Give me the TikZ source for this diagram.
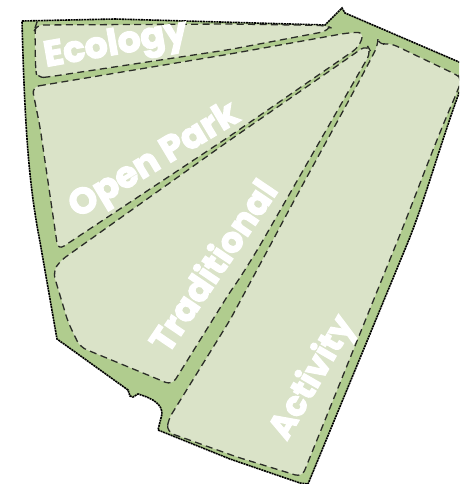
\documentclass[tikz,border=0pt]{standalone}
\usepackage{fontspec}
\newfontfamily\lblfont[BoldFeatures={FakeBold=3.5}]{Poppins}
\definecolor{pathgreen}{HTML}{B0CC8E}
\definecolor{zonegreen}{HTML}{DAE3C8}
\definecolor{dashgrey}{HTML}{2B2D28}
\tikzset{
  site/.style={fill=pathgreen,draw=black,line width=1.6pt,dash pattern=on 2pt off 0.7pt},
  zone/.style={fill=zonegreen,draw=dashgrey,line width=1.3pt,dash pattern=on 7pt off 4.4pt,rounded corners=7pt},
  zonelabel/.style={text=white,inner sep=0pt,font=\lblfont\bfseries\fontsize{36}{36}\selectfont},
}
\begin{document}
\begin{tikzpicture}[x=1pt,y=-1pt]
\useasboundingbox (0,0) rectangle (459,484);
\clip (0,0) rectangle (459,484);
% site outline
\path[site] (22,21) -- (115,19) -- (325,25) -- (342,8) -- (345,13) -- (459,62) -- (470,67) -- (470,70) -- (459,93)
  .. controls (440,145) and (425,200) .. (408,242) -- (308,484) -- (300,483) -- (230,459) -- (158,430)
  -- (162,414) .. controls (162,405) and (155,399) .. (138,394) -- (133,397) -- (130,396) -- (128,390) -- (57,339)
  -- (40,242) .. controls (30,190) and (25,140) .. (22,21) -- cycle;
% zones
\path[zone] (35,28) -- (36,25) -- (230,24) -- (325,25.5) .. controls (329,27) and (329,29) .. (328,31)
  -- (230,49.5) -- (48,77) -- (37,78) -- (35.5,68) -- cycle;
\path[zone] (32,87) -- (230,54) -- (347,33) -- (364,32) -- (359,47) -- (230,136) -- (58,250) -- (40,127) -- cycle;
\path[zone] (367,45) -- (371,52) -- (262,242) .. controls (250,262) and (240,278) .. (230,292) -- (172,385) -- (80,347) -- (68,322) -- (53,272) -- (60,261) -- (230,140) -- cycle;
\path[zone] (378,45) -- (390,43) -- (459,76) -- (462,79) -- (455,97) .. controls (434,145) and (414,200) .. (397,242) -- (302,477) -- (237,457) -- (167,432) -- (168,420) -- (230,320) -- (272,242) .. controls (310,170) and (350,100) .. cycle;
% labels
\node[zonelabel,rotate=10] (ecology) at (116,46) {Ecology};
\node[zonelabel,rotate=31] (openpark) at (155,162) {Open Park};
\node[zonelabel,rotate=56,font=\lblfont\bfseries\fontsize{35}{35}\selectfont] (traditional) at (212,265) {Traditional};
\node[zonelabel,rotate=60,font=\lblfont\bfseries\fontsize{34}{34}\selectfont] (activity) at (313,378) {Activity};
\end{tikzpicture}
\end{document}
